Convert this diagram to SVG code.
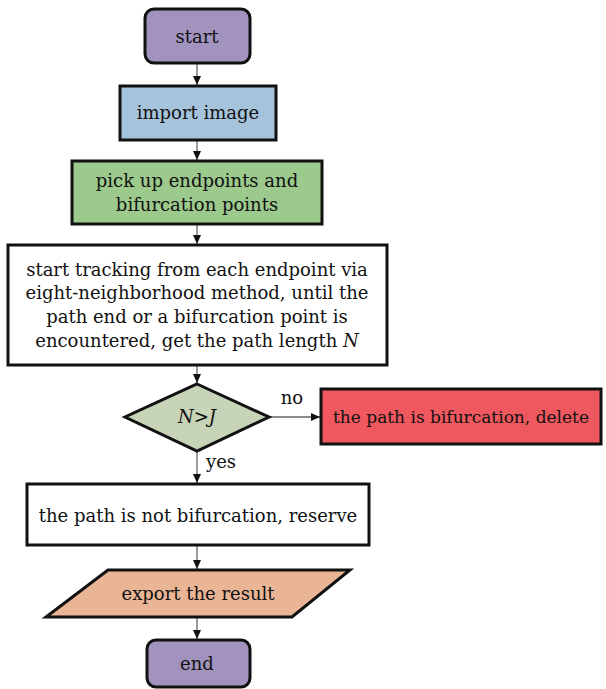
<svg xmlns="http://www.w3.org/2000/svg" width="606" height="689" viewBox="0 0 606 689">
<defs>
<marker id="ah" markerWidth="10" markerHeight="10" refX="9" refY="5" orient="auto" markerUnits="userSpaceOnUse">
<path d="M0,1 L9,5 L0,9 Z" fill="#111"/>
</marker>
<style>
.box{stroke:#111;stroke-width:3}
.t{font-family:"DejaVu Serif","Liberation Serif",serif;font-size:18px;fill:#111;text-anchor:middle}
.c{stroke:#666;stroke-width:1.3;fill:none;marker-end:url(#ah)}
</style>
</defs>
<rect width="606" height="689" fill="#fff"/>
<g id="connectors">
<line class="c" x1="197" y1="63" x2="197" y2="85"/>
<line class="c" x1="197" y1="140" x2="197" y2="160"/>
<line class="c" x1="197" y1="224" x2="197" y2="244"/>
<line class="c" x1="197" y1="365" x2="197" y2="383"/>
<line class="c" x1="269" y1="417" x2="320" y2="417"/>
<line class="c" x1="197" y1="451" x2="197" y2="483"/>
<line class="c" x1="197" y1="545" x2="197" y2="569"/>
<line class="c" x1="197" y1="617" x2="197" y2="639"/>
<text class="t" x="292" y="404">no</text>
<text class="t" x="221" y="468">yes</text>
</g>
<g id="start">
<rect class="box" x="145" y="9" width="105" height="54" rx="9" fill="#a193be"/>
<text class="t" x="197" y="43">start</text>
</g>
<g id="import">
<rect class="box" x="120" y="86" width="156" height="54" fill="#a5c3da"/>
<text class="t" x="198" y="119">import image</text>
</g>
<g id="pickup">
<rect class="box" x="72" y="161" width="250" height="63" fill="#9cc98c"/>
<text class="t" x="197" y="187">pick up endpoints and</text>
<text class="t" x="197" y="211">bifurcation points</text>
</g>
<g id="track">
<rect class="box" x="8" y="245" width="379" height="120" fill="#fff"/>
<text class="t" x="197" y="276">start tracking from each endpoint via</text>
<text class="t" x="197" y="299">eight-neighborhood method, until the</text>
<text class="t" x="197" y="323">path end or a bifurcation point is</text>
<text class="t" x="197" y="347">encountered, get the path length <tspan font-style="italic">N</tspan></text>
</g>
<g id="decision">
<polygon class="box" points="197,384 269,417 197,451 125,417" fill="#c7d4b8"/>
<text class="t" x="197" y="423" font-style="italic">N&gt;J</text>
</g>
<g id="delete">
<rect class="box" x="321" y="389" width="280" height="55" fill="#ef585e"/>
<text class="t" x="461" y="423" style="font-size:17px">the path is bifurcation, delete</text>
</g>
<g id="reserve">
<rect class="box" x="27" y="484" width="342" height="61" fill="#fff"/>
<text class="t" x="198" y="522">the path is not bifurcation, reserve</text>
</g>
<g id="export">
<polygon class="box" points="108,570 350,570 292,617 46,617" fill="#e9b595"/>
<text class="t" x="198" y="600">export the result</text>
</g>
<g id="end">
<rect class="box" x="147" y="640" width="103" height="47" rx="9" fill="#a193be"/>
<text class="t" x="197" y="670">end</text>
</g>
</svg>
